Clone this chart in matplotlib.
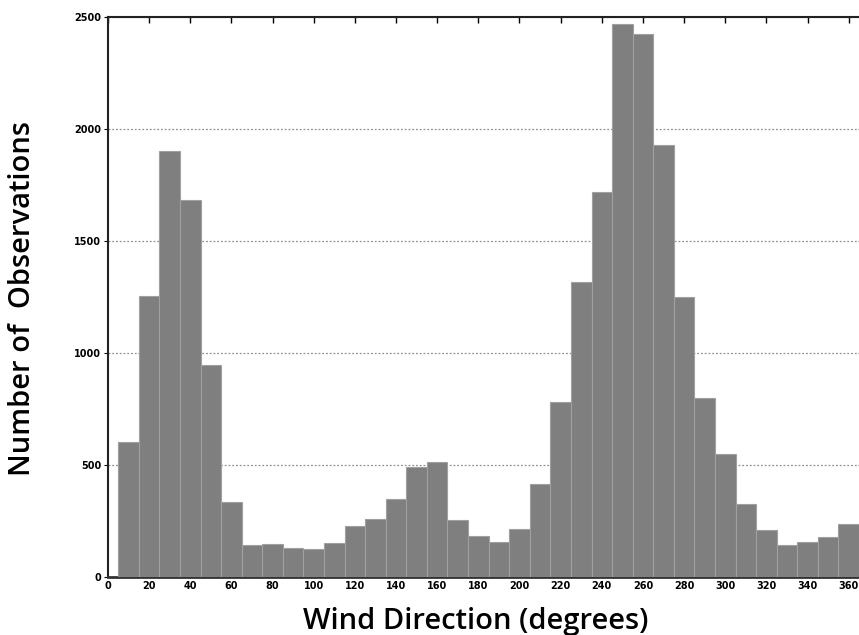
import matplotlib
matplotlib.use("Agg")
import matplotlib.pyplot as plt
import numpy as np

# Bin centres (degrees) and counts
bin_centers = [10, 20, 30, 40, 50, 60, 70, 80, 90, 100, 110, 120, 130, 140, 150, 160, 170, 180,
               190, 200, 210, 220, 230, 240, 250, 260, 270, 280, 290, 300, 310, 320, 330, 340, 350, 360]
counts = [605, 1256, 1903, 1683, 946, 336, 143, 149, 131, 124, 150, 228, 257, 348, 491, 515, 254, 185,
          158, 213, 415, 783, 1318, 1717, 2467, 2423, 1929, 1251, 798, 549, 324, 210, 143, 158, 177, 235]
x_ticks = list(range(0, 361, 20))
y_ticks = [0, 500, 1000, 1500, 2000, 2500]

fig = plt.figure(figsize=(8.59, 6.35), dpi=100)
ax = fig.add_axes([0.1257, 0.0913, 0.8743, 0.8819])

ax.bar(bin_centers, counts, width=10, color="#7f7f7f", edgecolor="#a0a0a0", linewidth=0.8, zorder=3)

ax.set_xlim(0, 365)
ax.set_ylim(0, 2500)
ax.set_xticks(x_ticks)
ax.set_yticks(y_ticks)
ax.set_xticklabels([str(t) for t in x_ticks], fontsize=7, fontweight="bold")
ax.set_yticklabels([str(t) for t in y_ticks], fontsize=7, fontweight="bold")
ax.tick_params(axis="x", direction="in", top=True, bottom=False, length=4, width=1, pad=3)
ax.tick_params(axis="y", direction="out", left=True, right=False, length=3, width=0.8, pad=2)

ax.yaxis.grid(True, linestyle=(0, (1.5, 1.5)), color="#909090", linewidth=0.9, zorder=1)
ax.set_axisbelow(True)

for side in ["left", "top"]:
    ax.spines[side].set_linewidth(1.5)
    ax.spines[side].set_color("#222222")
ax.spines["bottom"].set_linewidth(2)
ax.spines["bottom"].set_color("#333333")
ax.spines["right"].set_visible(False)

label_font = ["Open Sans", "DejaVu Sans"]
fig.text(0.554, 0.0095, "Wind Direction (degrees)", fontsize=21, family=label_font,
         fontweight="semibold", ha="center", va="baseline")
fig.text(0.026, 0.53, "Number of  Observations", fontsize=21, family=label_font,
         fontweight="semibold", ha="center", va="center", rotation=90)

fig.savefig("out.png", dpi=100)
